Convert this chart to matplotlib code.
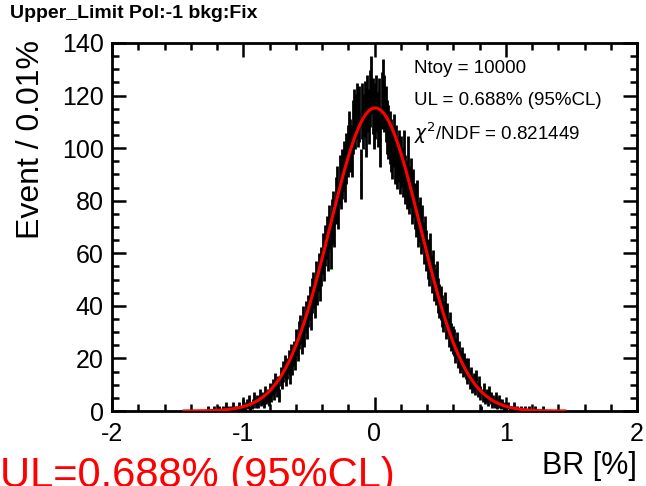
import numpy as np
import matplotlib.pyplot as plt
from matplotlib.ticker import MultipleLocator

plt.rcParams['font.family'] = ['Liberation Sans', 'DejaVu Sans']
plt.rcParams['axes.unicode_minus'] = False

# toy BR distribution, 0.01% bins between -1.30% and 1.30% (empty elsewhere)
lo_edge = -1.30
bin_w = 0.01
counts = [
    0, 0, 0, 1, 0, 0, 0, 1, 0, 0,              # -1.30
    0, 1, 0, 0, 1, 0, 2, 0, 1, 0,              # -1.20
    1, 0, 2, 1, 0, 1, 2, 1, 1, 3,              # -1.10
    2, 1, 3, 2, 4, 1, 2, 3, 5, 3,              # -1.00
    4, 3, 6, 4, 5, 3, 7, 5, 6, 4,              # -0.90
    8, 6, 9, 7, 11, 8, 10, 6, 13, 12,          # -0.80
    15, 17, 13, 16, 19, 14, 21, 18, 22, 20,    # -0.70
    26, 24, 29, 31, 27, 34, 30, 36, 33, 38,    # -0.60
    41, 37, 44, 46, 42, 50, 47, 53, 49, 55,    # -0.50
    60, 57, 63, 66, 61, 70, 62, 72, 75, 71,    # -0.40
    80, 84, 78, 88, 86, 90, 93, 89, 96, 99,    # -0.30
    104, 101, 99, 108, 112, 110, 114, 111, 113, 90,   # -0.20
    114, 110, 115, 107, 117, 112, 119, 124, 116, 110, # -0.10
    114, 117, 111, 116, 103, 118, 123, 117, 113, 108, #  0.00
    106, 104, 101, 98, 103, 96, 99, 94, 97, 92,       #  0.10
    95, 91, 97, 88, 86, 95, 84, 87, 80, 83,           #  0.20
    78, 75, 79, 71, 73, 68, 70, 64, 66, 61,    #  0.30
    58, 55, 60, 52, 54, 49, 47, 50, 44, 42,    #  0.40
    41, 38, 36, 39, 33, 35, 30, 32, 28, 27,    #  0.50
    26, 23, 25, 21, 22, 19, 20, 17, 18, 16,    #  0.60
    14, 16, 12, 13, 10, 11, 9, 12, 8, 10,      #  0.70
    7, 1, 6, 8, 5, 6, 4, 7, 5, 3,              #  0.80
    4, 3, 5, 2, 4, 3, 2, 3, 1, 2,              #  0.90
    1, 2, 0, 1, 1, 0, 2, 0, 1, 0,              #  1.00
    0, 1, 0, 0, 1, 0, 0, 1, 0, 0,              #  1.10
    0, 0, 1, 0, 0, 0, 0, 0, 1, 0,              #  1.20
]

# gaussian fit result
fit_amp = 115.3
fit_mean = 0.005
fit_sigma = 0.345
fit_range = (-1.45, 1.45)

n_toy = 10000
ul = 0.688
chi2_ndf = 0.821449

counts = np.array(counts, dtype=float)
centers = lo_edge + bin_w * (np.arange(len(counts)) + 0.5)

fig = plt.figure(figsize=(6.46, 4.86), dpi=100)
ax = fig.add_axes([112/646, 1 - 411/486, 525/646, 368/486])

ax.errorbar(centers, counts, xerr=bin_w/2, yerr=np.sqrt(counts), fmt='none',
            ecolor='black', elinewidth=2.0, capsize=0, zorder=2)

xf = np.linspace(fit_range[0], fit_range[1], 600)
ax.plot(xf, fit_amp*np.exp(-0.5*((xf - fit_mean)/fit_sigma)**2),
        color='red', lw=2.2, zorder=3)

ax.set_xlim(-2, 2)
ax.set_ylim(0, 140)
ax.xaxis.set_major_locator(MultipleLocator(1))
ax.xaxis.set_minor_locator(MultipleLocator(0.2))
ax.yaxis.set_major_locator(MultipleLocator(20))
ax.yaxis.set_minor_locator(MultipleLocator(5))
ax.xaxis.set_major_formatter(lambda v, pos: f'{v:g}')
ax.tick_params(which='both', direction='in', top=True, right=True, width=1.8,
               labelsize=18)
ax.tick_params(which='major', length=10)
ax.tick_params(which='minor', length=5)
ax.tick_params(axis='x', pad=8)
ax.tick_params(axis='y', pad=6)
for s in ax.spines.values():
    s.set_linewidth(2)

ax.text(0.575, 0.93, f'Ntoy = {n_toy}', transform=ax.transAxes, fontsize=13.5,
        va='center')
ax.text(0.575, 0.845, f'UL = {ul}% (95%CL)', transform=ax.transAxes,
        fontsize=13.5, va='center')
ax.text(0.575, 0.755, r'$\chi^{2}$/NDF = ' + f'{chi2_ndf}', transform=ax.transAxes,
        fontsize=13.5, va='center')

fig.text(10/646, 1 - 13/486, 'Upper_Limit Pol:-1 bkg:Fix', fontsize=14,
         fontweight='bold', va='center', ha='left')
fig.text(31/646, 1 - 40/486, 'Event / 0.01%', rotation=90, fontsize=23,
         ha='center', va='top')
fig.text(637/646, 1 - 466/486, 'BR [%]', fontsize=22, ha='right', va='center')
fig.text(0, 1 - 456/486, f'UL={ul}% (95%CL)', fontsize=30, color='red',
         ha='left', va='top')

fig.savefig('out.png', dpi=100)
